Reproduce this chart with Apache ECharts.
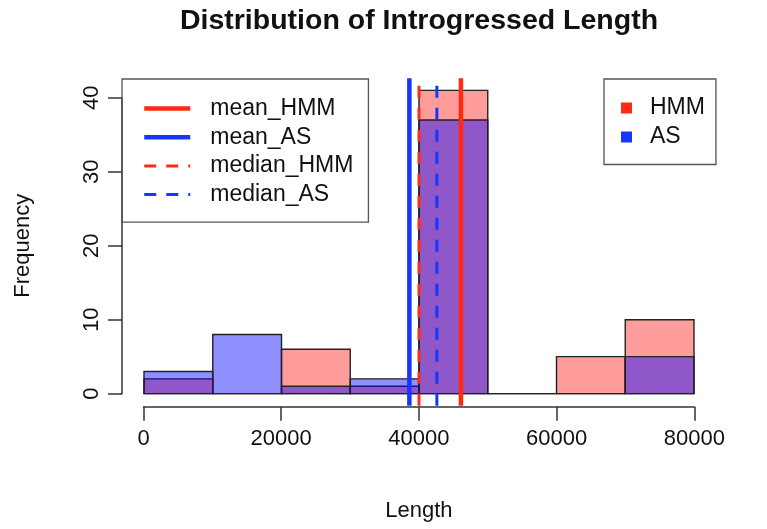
<!DOCTYPE html>
<html>
<head>
<meta charset="utf-8">
<script src="https://cdn.jsdelivr.net/npm/echarts@6/dist/echarts.min.js"></script>
<style>
  html, body { margin: 0; background: #fff; }
  #chart { width: 767px; height: 529px; }
</style>
</head>
<body>
<div id="chart"></div>
<script>
// histogram bins (shared breaks) and counts
const binEdges = [0, 10000, 20000, 30000, 40000, 50000, 60000, 70000, 80000];
const hmmCounts = [2, 0, 6, 1, 41, 0, 5, 10];
const asCounts = [3, 8, 1, 2, 37, 0, 0, 5];

// summary lines
const meanHMM = 46100;
const meanAS = 38600;
const medianHMM = 40000;
const medianAS = 42600;

const xTicks = [0, 20000, 40000, 60000, 80000];
const yTicks = [0, 10, 20, 30, 40];

// R-like plot region (4% extension of the data range)
const xLo = -3200, xHi = 83200;
const yLo = -1.64, yHi = 42.64;

const FONT = '"Liberation Sans", Arial, Helvetica, sans-serif';
const RED = '#ff2a10';
const BLUE = '#1437ff';
const TXT = '#111';
const AXIS = '#333';
const SOLID_W = 4.5;
const DASH_W = 3;
const DASH = [12, 10];

const chart = echarts.init(document.getElementById('chart'));

function histSeries(name, counts, fill, legendColor) {
  return {
    name: name,
    type: 'custom',
    xAxisIndex: 0,
    yAxisIndex: 0,
    silent: true,
    z: 2,
    itemStyle: { color: legendColor },
    data: counts.map((c, i) => [binEdges[i], binEdges[i + 1], c]),
    encode: { x: [0, 1], y: 2 },
    renderItem: (params, api) => {
      const p0 = api.coord([api.value(0), 0]);
      const p1 = api.coord([api.value(1), api.value(2)]);
      return {
        type: 'rect',
        shape: { x: p0[0], y: p1[1], width: p1[0] - p0[0], height: p0[1] - p1[1] },
        style: { fill: fill, stroke: '#222', lineWidth: 1.4 }
      };
    }
  };
}

function lineStyleFor(color, dashed) {
  return dashed
    ? { color: color, width: DASH_W, type: DASH }
    : { color: color, width: SOLID_W, type: 'solid' };
}

function vline(name, value, color, dashed) {
  return {
    name: name,
    type: 'line',
    xAxisIndex: 0,
    yAxisIndex: 0,
    silent: true,
    z: 3,
    symbol: 'none',
    data: [[value, yLo], [value, yHi]],
    itemStyle: { color: color },
    lineStyle: lineStyleFor(color, dashed)
  };
}

const plainNum = v => String(v);
const hiddenAxis = (grid) => ({ gridIndex: grid, type: 'value', min: 0, max: 1, show: false });

const option = {
  animation: false,
  backgroundColor: '#fff',
  title: {
    text: 'Distribution of Introgressed Length',
    left: 419,
    top: 7,
    padding: 0,
    textAlign: 'center',
    textStyle: { fontFamily: FONT, fontSize: 28.5, fontWeight: 'bold', color: TXT }
  },
  legend: [
    {
      data: [
        { name: 'mean_HMM', lineStyle: lineStyleFor(RED, false) },
        { name: 'mean_AS', lineStyle: lineStyleFor(BLUE, false) },
        { name: 'median_HMM', lineStyle: lineStyleFor(RED, true) },
        { name: 'median_AS', lineStyle: lineStyleFor(BLUE, true) }
      ],
      orient: 'vertical',
      left: 122,
      top: 79,
      padding: [18, 15, 16, 20],
      itemWidth: 46,
      itemHeight: 14,
      itemGap: 5.7,
      borderColor: '#555',
      borderWidth: 1.3,
      selectedMode: false,
      itemStyle: { opacity: 0 },
      textStyle: { fontFamily: FONT, fontSize: 23, color: TXT, lineHeight: 22, padding: [0, 0, 0, 15] }
    },
    {
      data: ['HMM', 'AS'],
      orient: 'vertical',
      left: 604,
      top: 79,
      padding: [17.5, 11, 16, 17],
      icon: 'rect',
      itemWidth: 11,
      itemHeight: 11,
      itemGap: 6,
      borderColor: '#555',
      borderWidth: 1.3,
      selectedMode: false,
      textStyle: { fontFamily: FONT, fontSize: 23, color: TXT, lineHeight: 22, padding: [0, 0, 0, 13] }
    }
  ],
  grid: [
    // plot region, carries the marks
    { left: 122, right: 51, top: 78.2, bottom: 123.2 },
    // x axis: spans the data range, sits on the plot region's bottom edge
    { left: 143.5, right: 72.7, top: 97.7, bottom: 122.3 },
    // y axis: spans the data range, sits on the plot region's left edge
    { left: 122, right: 72.7, top: 97.7, bottom: 135.3 }
  ],
  xAxis: [
    { gridIndex: 0, type: 'value', min: xLo, max: xHi, show: false },
    {
      gridIndex: 1,
      type: 'value',
      position: 'bottom',
      min: xTicks[0],
      max: xTicks[xTicks.length - 1],
      interval: xTicks[1] - xTicks[0],
      name: 'Length',
      nameLocation: 'middle',
      nameGap: 93,
      nameTextStyle: { fontFamily: FONT, fontSize: 22, color: TXT },
      axisLine: { show: true, onZero: false, lineStyle: { color: AXIS, width: 1.5 } },
      axisTick: { show: true, length: 14, lineStyle: { color: AXIS, width: 1.5 } },
      axisLabel: { margin: 21, fontFamily: FONT, fontSize: 22, color: TXT, formatter: plainNum, showMinLabel: true, showMaxLabel: true },
      splitLine: { show: false }
    },
    hiddenAxis(2)
  ],
  yAxis: [
    { gridIndex: 0, type: 'value', min: yLo, max: yHi, show: false },
    hiddenAxis(1),
    {
      gridIndex: 2,
      type: 'value',
      position: 'left',
      min: yTicks[0],
      max: yTicks[yTicks.length - 1],
      interval: yTicks[1] - yTicks[0],
      name: 'Frequency',
      nameLocation: 'middle',
      nameGap: 88,
      nameTextStyle: { fontFamily: FONT, fontSize: 22, color: TXT },
      axisLine: { show: true, onZero: false, lineStyle: { color: AXIS, width: 1.5 } },
      axisTick: { show: true, length: 14, lineStyle: { color: AXIS, width: 1.5 } },
      axisLabel: { rotate: 90, margin: 19, fontFamily: FONT, fontSize: 22, color: TXT, formatter: plainNum, showMinLabel: true, showMaxLabel: true },
      splitLine: { show: false }
    }
  ],
  series: [
    histSeries('HMM', hmmCounts, 'rgba(255, 0, 0, 0.39)', RED),
    histSeries('AS', asCounts, 'rgba(0, 0, 255, 0.44)', BLUE),
    vline('mean_HMM', meanHMM, RED, false),
    vline('mean_AS', meanAS, BLUE, false),
    vline('median_HMM', medianHMM, RED, true),
    vline('median_AS', medianAS, BLUE, true),
    { type: 'line', xAxisIndex: 1, yAxisIndex: 1, data: [], silent: true },
    { type: 'line', xAxisIndex: 2, yAxisIndex: 2, data: [], silent: true }
  ]
};

chart.setOption(option);
</script>
</body>
</html>
